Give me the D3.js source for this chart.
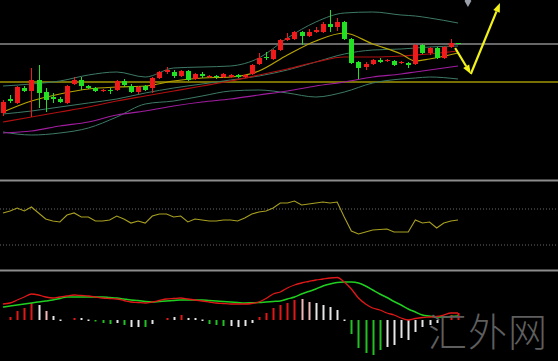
<!DOCTYPE html>
<html><head><meta charset="utf-8">
<script src="https://cdn.jsdelivr.net/npm/d3@7"></script>
<style>html,body{margin:0;padding:0;background:#000;overflow:hidden}</style>
</head><body><svg id="c" width="558" height="361"></svg>
<script>
// ---- candle data (price units) ----
const candleOpen  = [87,101,97,112,109,120,108,103,101,97,116,120,114,112,109,110,110,119,114,108,114,112,122,128,128,124,129,121,126,123,124,123,123,125,123,126,136,143,141,150,160,161,168,164,168,168,176,173,178,161,138,133,136,140,139,139,137,137,136,155,147,152,142,153,157];
const candleClose = [98,99,113,109,120,107,100,101,98,114,120,114,112,109,110,109,119,115,108,113,110,122,128,130,124,129,120,126,124,124,123,126,125,123,125,135,142,142,150,160,162,168,164,168,170,176,173,178,161,137,132,136,140,138,140,135,138,135,155,147,152,142,153,157,157];
const candleHigh  = [100,105,114,114,132,135,112,107,103,115,123,123,115,113,111,112,120,121,116,114,115,123,129,133,130,130,130,127,128,125,125,127,126,126,126,136,147,148,151,161,167,169,169,171,173,178,190,182,179,162,139,138,141,142,141,140,139,138,156,156,153,153,154,161,157];
const candleLow   = [84,97,96,108,83,92,88,97,97,96,115,110,111,108,108,106,109,113,107,106,109,107,121,126,122,123,119,120,122,122,121,122,122,122,122,125,135,140,140,149,159,160,155,163,167,167,168,169,160,136,121,130,135,137,138,134,136,132,135,146,145,141,141,152,157];

// ---- overlay lines, sampled at these candle indexes ----
const lineIdx     = [0,4,8,12,16,20,24,28,32,36,40,44,48,52,56,58,60,64];
const maYellow    = [88,99,106,111,113,114,119,122,123,129,145,159,167,156,146,139,141,147];
const bandMiddle  = [86,89,93,97,101,107,112,116,120,124,130,138,146,150,151,152,153,154];
const bandUpper   = [114,116,119,125,128,123,132,133,134,142,162,178,187,188,185,184,182,177];
const bandLower   = [68,65,67,72,83,96,99,104,109,110,107,103,108,117,121,122,123,121];
const maRed       = [78,83,88,93,99,104,109,114,119,125,131,138,143,143,144,145,146,149];
const maMagenta   = [67,69,74,78,85,89,94,98,101,105,109,114,118,123,126,128,130,134];

const levelGray = 156, levelOlive = 118;

// ---- RSI ----
const rsiValues = [65.6,67.8,71.1,67.8,72.2,65.6,58.9,56.7,55.6,63.3,
 65.6,61.1,61.1,56.7,56.7,57.8,62.2,58.9,54.4,56.7,
 54.4,62.2,64.4,64.4,61.1,62.2,55.6,58.9,57.8,56.7,
 56.7,57.8,57.8,56.7,60.0,64.4,66.7,67.8,71.1,76.7,
 76.7,78.9,74.4,75.6,76.7,77.8,76.7,77.8,61.1,45.6,
 42.2,44.4,46.7,47.2,47.8,44.4,44.4,44.4,57.8,54.4,
 55.6,48.9,54.4,56.7,57.8];
const rsiLevels = [70,30];

// ---- MACD ----
const macdLine = [1.6,1.7,2.0,2.3,2.6,2.5,2.3,2.2,2.3,2.4,
 2.5,2.45,2.4,2.3,2.2,2.15,2.1,1.95,1.8,1.75,
 1.7,1.8,1.95,2.1,2.15,2.2,2.1,2.0,1.9,1.8,
 1.7,1.65,1.6,1.6,1.6,1.65,1.8,2.15,2.6,2.8,
 3.2,3.5,3.7,3.85,4.0,4.1,4.2,4.25,3.8,3.1,
 2.2,1.6,1.2,1.0,0.7,0.5,0.2,0.0,0.15,0.25,
 0.3,0.35,0.5,0.7,0.7];
const signalLine = [1.3,1.4,1.5,1.6,1.7,1.8,1.9,2.0,2.15,2.3,
 2.3,2.3,2.3,2.3,2.3,2.25,2.2,2.1,2.0,1.95,
 1.85,1.8,1.85,1.9,1.95,2.0,2.0,2.0,2.0,1.95,
 1.9,1.85,1.8,1.75,1.7,1.72,1.75,1.8,1.85,1.9,
 2.1,2.3,2.6,2.85,3.1,3.4,3.6,3.75,3.8,3.8,
 3.7,3.4,3.0,2.6,2.25,1.85,1.5,1.1,0.8,0.5,
 0.4,0.3,0.3,0.35,0.4];
const histValues = [0,0.3,0.9,1.2,1.7,1.5,0.9,0.4,0.05,0,
 0.2,0.2,0.05,-0.1,-0.3,-0.4,-0.3,-0.5,-0.7,-0.7,
 -0.7,-0.4,0,0.2,0.3,0.5,0.2,0.2,0.05,-0.4,
 -0.5,-0.6,-0.6,-0.7,-0.6,-0.3,0.3,0.7,1.2,1.5,
 1.7,2.0,2.1,1.8,1.7,1.5,1.3,1.0,0.05,-1.4,
 -2.8,-3.3,-3.5,-3.0,-2.7,-2.5,-1.8,-2.0,-1.2,-0.7,
 -0.5,-0.3,0,0.5,0.7];
// r = rising above zero, p = falling above zero (pink), w = pale, g = falling below zero
const histState = "rrrrrwpwwwrwwgggwgwwgwwrwrwwwgggwwwwrrrrrrppwwwwwgggggwwwwwwwwwrr";

// arrows drawn on the chart (candle index, price)
const arrowPts = [[63.6,152],[65.8,126],[69.9,197]];
const markerIdx = 65.4;
const watermark = "汇外网";

// ---------------- drawing ----------------
const W = 558, H = 361;
const svg = d3.select('#c');
svg.append('rect').attr('width',W).attr('height',H).attr('fill','#000');

const N = candleOpen.length;
const x = d3.scaleLinear().domain([0,64]).range([3,458]);
const yP = d3.scaleLinear().domain([20,200]).range([180,0]);
const yR = d3.scaleLinear().domain([0,100]).range([272,182]);
const yM = d3.scaleLinear().domain([-5,5]).range([370,270]);

const defs = svg.append('defs');
[['cMain',0,0,W,180],['cRsi',0,181,W,89],['cMacd',0,271,W,90]].forEach(([id,a,b,w,h])=>{
  defs.append('clipPath').attr('id',id).append('rect').attr('x',a).attr('y',b).attr('width',w).attr('height',h);
});

const main = svg.append('g').attr('clip-path','url(#cMain)');

// horizontal levels
main.append('line').attr('x1',0).attr('x2',W).attr('y1',yP(levelGray)).attr('y2',yP(levelGray))
  .attr('stroke','#8a8a8a').attr('stroke-width',1.3);
main.append('line').attr('x1',0).attr('x2',W).attr('y1',yP(levelOlive)).attr('y2',yP(levelOlive))
  .attr('stroke','#a09600').attr('stroke-width',1.5);

const lineGen = d3.line().x((d,i)=>x(lineIdx[i])).y(d=>yP(d)).curve(d3.curveMonotoneX);
const lines = [
  [bandUpper,'#3d7a66',1],
  [bandLower,'#3d7a66',1],
  [bandMiddle,'#3d7a66',1],
  [maMagenta,'#a01ca0',1.2],
  [maRed,'#b01010',1.2],
  [maYellow,'#b8a400',1.2]
];
lines.forEach(([arr,col,w])=>{
  main.append('path').attr('d',lineGen(arr)).attr('fill','none').attr('stroke',col).attr('stroke-width',w);
});

// candles
const upCol = '#f01a1a', dnCol = '#22e022';
const bw = 5;
const cg = main.append('g');
for(let i=0;i<N;i++){
  const o=candleOpen[i], c=candleClose[i], h=candleHigh[i], l=candleLow[i];
  const col = c>o ? upCol : dnCol;
  const cx = Math.round(x(i))+0.5;
  cg.append('line').attr('x1',cx).attr('x2',cx).attr('y1',yP(h)).attr('y2',yP(l)).attr('stroke',col).attr('stroke-width',1);
  const top = yP(Math.max(o,c)), bot = yP(Math.min(o,c));
  cg.append('rect').attr('x',cx-bw/2).attr('y',top).attr('width',bw).attr('height',Math.max(1,bot-top)).attr('fill',col);
}

// arrows
const arrowCol = '#f2f21a';
function arrow(p0,p1){
  const x0=x(p0[0]), y0=yP(p0[1]), x1=x(p1[0]), y1=yP(p1[1]);
  const ang=Math.atan2(y1-y0,x1-x0), L=9, Wd=3.5;
  const bx=x1-L*Math.cos(ang), by=y1-L*Math.sin(ang);
  main.append('line').attr('x1',x0).attr('y1',y0).attr('x2',bx).attr('y2',by).attr('stroke',arrowCol).attr('stroke-width',2.2);
  const px=-Math.sin(ang)*Wd, py=Math.cos(ang)*Wd;
  main.append('path').attr('d',`M${x1},${y1}L${bx+px},${by+py}L${bx-px},${by-py}Z`).attr('fill',arrowCol);
}
arrow(arrowPts[0],arrowPts[1]);
arrow(arrowPts[1],arrowPts[2]);

// small gray marker at top
main.append('path').attr('d',d3.symbol().type(d3.symbolDiamond).size(40)()).attr('transform',`translate(${x(markerIdx)},1)`).attr('fill','#9aa0aa');

// ---- RSI panel ----
const rsiG = svg.append('g').attr('clip-path','url(#cRsi)');
rsiLevels.forEach(v=>{
  rsiG.append('line').attr('x1',0).attr('x2',W).attr('y1',yR(v)).attr('y2',yR(v))
    .attr('stroke','#6a6a6a').attr('stroke-width',1).attr('stroke-dasharray','1,2');
});
rsiG.append('path').attr('d',d3.line().x((d,i)=>x(i)).y(d=>yR(d))(rsiValues))
  .attr('fill','none').attr('stroke','#a8a020').attr('stroke-width',1.1);

// ---- MACD panel ----
const mg = svg.append('g').attr('clip-path','url(#cMacd)');
const histCol = {r:'#e01818', p:'#f2b8b8', w:'#e6e6e6', g:'#22c022'};
histValues.forEach((v,i)=>{
  if(v===0) return;
  const y0=yM(0), y1=yM(v);
  mg.append('rect').attr('x',Math.round(x(i))-0.5).attr('width',2)
    .attr('y',Math.min(y0,y1)).attr('height',Math.max(1.5,Math.abs(y1-y0)))
    .attr('fill',histCol[histState[i]]);
});
const ml = d3.line().x((d,i)=>x(i)).y(d=>yM(d)).curve(d3.curveMonotoneX);
mg.append('path').attr('d',ml(signalLine)).attr('fill','none').attr('stroke','#20d020').attr('stroke-width',1.5);
mg.append('path').attr('d',ml(macdLine)).attr('fill','none').attr('stroke','#e01818').attr('stroke-width',1.3);

// watermark
svg.append('text').attr('x',428).attr('y',346).text(watermark)
  .attr('font-family','"Noto Sans CJK SC"').attr('font-weight',300).attr('font-size',39)
  .attr('fill','#5e5e5e').attr('letter-spacing',1);

// separators
[180.5,270.5].forEach(yy=>{
  svg.append('line').attr('x1',0).attr('x2',W).attr('y1',yy).attr('y2',yy).attr('stroke','#8c8c8c').attr('stroke-width',2);
});
</script></body></html>
